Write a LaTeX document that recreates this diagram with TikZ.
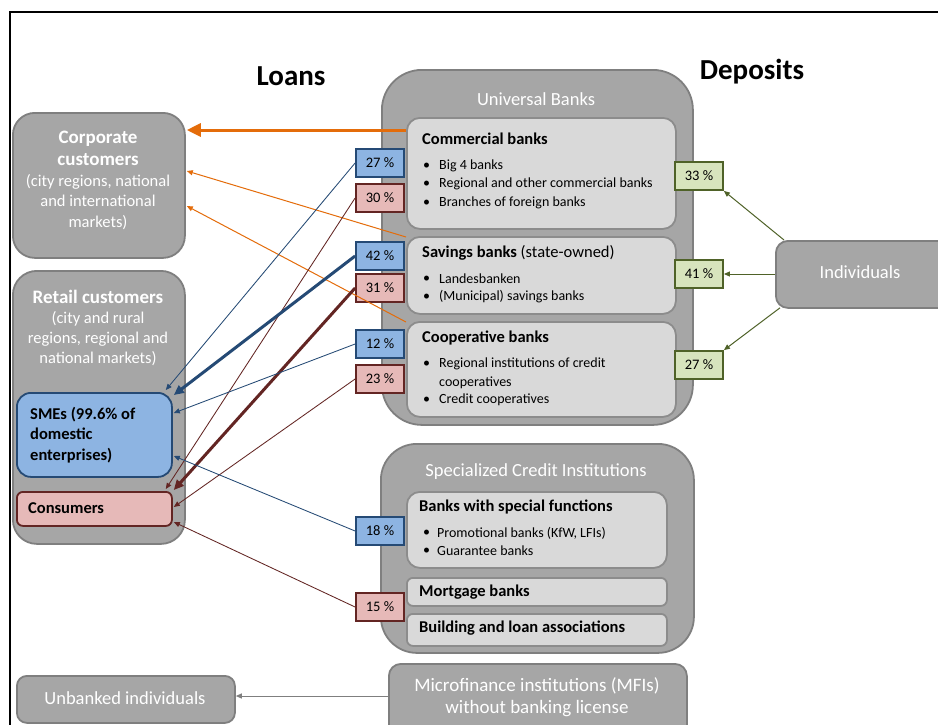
\documentclass[tikz,border=0pt]{standalone}
\usepackage{fontspec}
\setmainfont{Carlito}
\usetikzlibrary{arrows.meta,calc}
\definecolor{gfill}{HTML}{A6A6A6}
\definecolor{gline}{HTML}{7F7F7F}
\definecolor{ifill}{HTML}{D9D9D9}
\definecolor{iline}{HTML}{8C8C8C}
\definecolor{bfill}{HTML}{8DB4E2}
\definecolor{bline}{HTML}{254A75}
\definecolor{rfill}{HTML}{E6B9B8}
\definecolor{rline}{HTML}{632523}
\definecolor{nfill}{HTML}{D7E4BD}
\definecolor{nline}{HTML}{4F6228}
\definecolor{orng}{HTML}{E46C0A}
\begin{document}
\begin{tikzpicture}[x=1pt,y=-1pt,
  box/.style={anchor=north west,inner sep=0pt,line width=1.8pt},
  outerbox/.style={box,draw=gline,fill=gfill},
  innerbox/.style={box,draw=iline,fill=ifill,rounded corners=13pt},
  wtitle/.style={text=white,font=\fontsize{18.5}{22}\selectfont,inner sep=0pt,align=center},
  ititle/.style={anchor=west,inner sep=0pt,font=\bfseries\fontsize{16.5}{20}\selectfont},
  itxt/.style={anchor=west,inner sep=0pt,font=\fontsize{14}{17}\selectfont},
  pct/.style={draw,line width=1.8pt,minimum width=48pt,minimum height=28pt,inner sep=0pt,font=\fontsize{14.5}{16}\selectfont},
  bpct/.style={pct,draw=bline,fill=bfill},
  rpct/.style={pct,draw=rline,fill=rfill},
  npct/.style={pct,draw=nline,fill=nfill},
  bcon/.style={draw=bline,line width=0.85pt,-{Triangle[length=6pt,width=5pt]}},
  rcon/.style={draw=rline,line width=0.85pt,-{Triangle[length=6pt,width=5pt]}},
  bthick/.style={draw=bline,line width=3pt,-{Triangle[length=10pt,width=9pt]}},
  rthick/.style={draw=rline,line width=3pt,-{Triangle[length=10pt,width=9pt]}},
  ocon/.style={draw=orng,line width=1pt,-{Triangle[length=6pt,width=5pt]}},
  othick/.style={draw=orng,line width=3pt,-{Triangle[length=14pt,width=13pt]}},
  ncon/.style={draw=nline,line width=1pt,-{Triangle[length=6pt,width=5pt]}},
  gcon/.style={draw=gline,line width=1pt,-{Triangle[length=6pt,width=5pt]}},
  bigtitle/.style={font=\bfseries\fontsize{29}{32}\selectfont,inner sep=0pt}
]
\useasboundingbox (0,0) rectangle (938,724);
\clip (0,0) rectangle (938,724);
\fill[white] (0,0) rectangle (938,724);
% frame
\draw[line width=1.3pt] (10,730) -- (10,12) -- (945,12);

\node[bigtitle] (loans) at (291,76) {Loans};
\node[bigtitle] (deposits) at (752,72) {Deposits};

% customers
\node[outerbox,rounded corners=22pt,minimum width=172pt,minimum height=145pt] (corp) at (12,112) {};
\node[wtitle,font=\bfseries\fontsize{19}{22}\selectfont] (corpT) at (98,148) {Corporate\\customers};
\node[wtitle,font=\fontsize{16.5}{20.5}\selectfont] (corpB) at (98,202) {(city regions, national\\and international\\markets)};

\node[outerbox,rounded corners=24pt,minimum width=172pt,minimum height=273pt] (retail) at (12,270) {};
\node[wtitle,font=\bfseries\fontsize{19}{22}\selectfont] (retT) at (98,297) {Retail customers};
\node[wtitle,font=\fontsize{16.5}{20}\selectfont] (retB) at (98,339) {(city and rural\\regions, regional and\\national markets)};

\node[box,draw=bline,fill=bfill,rounded corners=14pt,minimum width=155pt,minimum height=84pt] (sme) at (16,392) {};
\node[anchor=west,inner sep=0pt,align=left,font=\bfseries\fontsize{16.5}{20.5}\selectfont] (smeT) at (30,435) {SMEs (99.6\% of\\domestic\\enterprises)};

\node[box,draw=rline,fill=rfill,rounded corners=6pt,minimum width=155pt,minimum height=34pt] (con) at (16,491) {};
\node[anchor=west,inner sep=0pt,font=\bfseries\fontsize{16.5}{20}\selectfont] (conT) at (28,508) {Consumers};

% universal banks
\node[outerbox,rounded corners=40pt,minimum width=311pt,minimum height=355pt] (ub) at (381,69) {};
\node[wtitle] (ubT) at (536,99) {Universal Banks};

\node[innerbox,minimum width=269pt,minimum height=111pt] (cb) at (406,117) {};
\node[ititle] (cbT) at (422,139) {Commercial banks};
\node[itxt] (cb1a) at (423,166) {•}; \node[itxt] (cb1) at (439,166) {Big 4 banks};
\node[itxt] (cb2a) at (423,184) {•}; \node[itxt] (cb2) at (439,184) {Regional and other commercial banks};
\node[itxt] (cb3a) at (423,203) {•}; \node[itxt] (cb3) at (439,203) {Branches of foreign banks};

\node[innerbox,minimum width=269pt,minimum height=77pt] (sb) at (406,236) {};
\node[ititle] (sbT) at (422,253) {Savings banks \mdseries(state-owned)};
\node[itxt] (sb1a) at (423,279) {•}; \node[itxt] (sb1) at (439,279) {Landesbanken};
\node[itxt] (sb2a) at (423,297) {•}; \node[itxt] (sb2) at (439,297) {(Municipal) savings banks};

\node[innerbox,minimum width=269pt,minimum height=95pt] (coop) at (406,321) {};
\node[ititle] (coopT) at (422,338) {Cooperative banks};
\node[itxt] (co1a) at (423,364) {•}; \node[itxt] (co1) at (439,364) {Regional institutions of credit};
\node[itxt] (co1b) at (439,383) {cooperatives};
\node[itxt] (co2a) at (423,400) {•}; \node[itxt] (co2) at (439,400) {Credit cooperatives};

% specialized
\node[outerbox,rounded corners=36pt,minimum width=313pt,minimum height=209pt] (sci) at (380,443) {};
\node[wtitle] (sciT) at (536,472) {Specialized Credit Institutions};

\node[innerbox,minimum width=260pt,minimum height=76pt] (bsf) at (406,491) {};
\node[ititle] (bsfT) at (419,507) {Banks with special functions};
\node[itxt] (bs1a) at (423,533) {•}; \node[itxt] (bs1) at (437,533) {Promotional banks (KfW, LFIs)};
\node[itxt] (bs2a) at (423,551) {•}; \node[itxt] (bs2) at (437,551) {Guarantee banks};

\node[innerbox,rounded corners=6pt,minimum width=260pt,minimum height=28pt] (mb) at (406,577) {};
\node[ititle] (mbT) at (419,592) {Mortgage banks};
\node[innerbox,rounded corners=6pt,minimum width=260pt,minimum height=32pt] (bla) at (406,613) {};
\node[ititle] (blaT) at (419,628) {Building and loan associations};

% bottom
\node[outerbox,rounded corners=12pt,minimum width=298pt,minimum height=80pt] (mfi) at (388,663) {};
\node[wtitle,font=\fontsize{19}{22}\selectfont] (mfiT) at (537,697) {Microfinance institutions (MFIs)\\without banking license};
\node[outerbox,rounded corners=10pt,minimum width=218pt,minimum height=47pt] (unb) at (16,675) {};
\node[wtitle] (unbT) at (125,698) {Unbanked individuals};

% individuals
\node[outerbox,rounded corners=12pt,minimum width=180pt,minimum height=67pt] (ind) at (775,240) {};
\node[wtitle] (indT) at (860,272) {Individuals};

% percentage boxes
\node[bpct] (p27) at (380,163) {27 \%};
\node[rpct] (p30) at (380,198) {30 \%};
\node[bpct] (p42) at (380,256) {42 \%};
\node[rpct] (p31) at (380,288) {31 \%};
\node[bpct] (p12) at (380,344) {12 \%};
\node[rpct] (p23) at (380,379) {23 \%};
\node[bpct] (p18) at (380,531) {18 \%};
\node[rpct] (p15) at (380,607) {15 \%};
\node[npct] (d33) at (699,176) {33 \%};
\node[npct] (d41) at (699,274) {41 \%};
\node[npct] (d27) at (699,365) {27 \%};

% connectors: loans
\draw[othick] ($(cb.north west)+(0,13)$) -- ($(corp.north east)+(1,18)$);
\draw[ocon] ($(sb.north west)+(0,1)$) -- ($(corp.north east)+(1,59)$);
\draw[ocon] ($(coop.north west)+(0,1)$) -- ($(corp.north east)+(1,94)$);

\draw[bcon] (p27.west) -- ($(sme.north east)+(-7,-2)$);
\draw[rcon] (p30.west) -- ($(con.north east)+(-7,-2)$);
\draw[bthick] (p42.west) -- ($(sme.north east)+(1,3)$);
\draw[rthick] (p31.west) -- ($(con.north east)+(1,-1)$);
\draw[bcon] (p12.west) -- ($(sme.north east)+(1,21)$);
\draw[rcon] (p23.west) -- ($(con.north east)+(1,16)$);
\draw[bcon] (p18.west) -- ($(sme.north east)+(1,64)$);
\draw[rcon] (p15.west) -- ($(con.north east)+(1,31)$);

% connectors: deposits
\draw[ncon] ($(ind.north west)+(9,0)$) -- (d33.south east);
\draw[ncon] (ind.west |- d41.east) -- (d41.east);
\draw[ncon] ($(ind.south west)+(5,-1)$) -- (d27.north east);

% MFIs
\draw[gcon] (mfi.west |- 0,696) -- (unb.east |- 0,696);
\end{tikzpicture}
\end{document}
